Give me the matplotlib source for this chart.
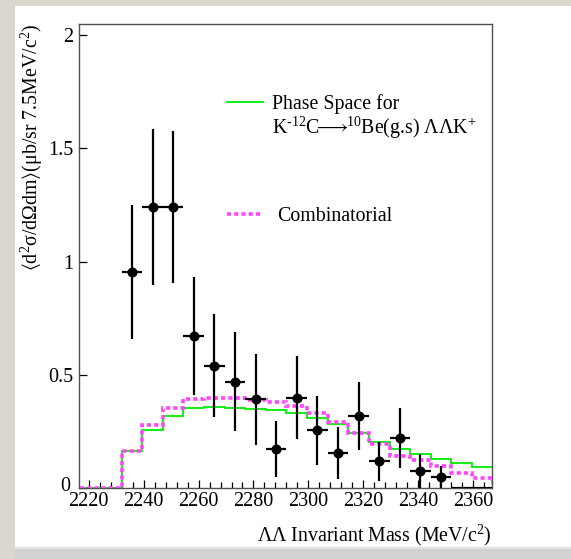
import numpy as np
import matplotlib
matplotlib.use("Agg")
import matplotlib.pyplot as plt
from matplotlib.patches import Rectangle
from matplotlib.lines import Line2D
from matplotlib.ticker import MultipleLocator
import matplotlib.transforms as mtransforms

plt.rcParams['font.family'] = ['Liberation Serif', 'DejaVu Serif', 'DejaVu Sans']
plt.rcParams['mathtext.fontset'] = 'custom'
plt.rcParams['mathtext.rm'] = 'Liberation Serif'
plt.rcParams['mathtext.it'] = 'Liberation Serif:italic'
plt.rcParams['mathtext.fallback'] = 'stix'

# ---- data ----
bin_edges = [2217.0, 2224.5, 2232.0, 2239.5, 2247.0, 2254.5, 2262.0, 2269.5, 2277.0,
             2284.5, 2292.0, 2299.5, 2307.0, 2314.5, 2322.0, 2329.5, 2337.0, 2344.5,
             2352.0, 2359.5, 2367.0]
data_values = [np.nan, np.nan, 0.955, 1.241, 1.241, 0.673, 0.541, 0.470, 0.393, 0.172,
               0.400, 0.257, 0.157, 0.319, 0.120, 0.221, 0.076, 0.049, 0.0, 0.0]
data_errors = [np.nan, np.nan, 0.295, 0.343, 0.336, 0.260, 0.226, 0.218, 0.200, 0.123,
               0.184, 0.152, 0.115, 0.151, 0.086, 0.133, 0.077, 0.049, 0.0, 0.0]
phase_space = [0.0, 0.0, 0.163, 0.257, 0.320, 0.353, 0.357, 0.356, 0.350, 0.345,
               0.334, 0.312, 0.282, 0.245, 0.206, 0.172, 0.150, 0.129, 0.113, 0.093]
combinatorial = [0.0, 0.0, 0.165, 0.279, 0.353, 0.393, 0.400, 0.400, 0.390, 0.382,
                 0.365, 0.334, 0.294, 0.243, 0.194, 0.143, 0.125, 0.098, 0.069, 0.047]
x_ticks = [2220, 2240, 2260, 2280, 2300, 2320, 2340, 2360]
y_ticks = [0, 0.5, 1, 1.5, 2]
y_tick_labels = ['0', '0.5', '1', '1.5', '2']

W, H = 571, 559
fig = plt.figure(figsize=(W / 100, H / 100), dpi=100)
fig.patch.set_facecolor('#dbd6ce')
fig.add_artist(Rectangle((15 / W, 1 - 547 / H), (W - 15) / W, (547 - 6) / H,
                         transform=fig.transFigure, facecolor='white', edgecolor='none', zorder=0))
fig.add_artist(Rectangle((15 / W, 0), (W - 15) / W, (559 - 547) / H,
                         transform=fig.transFigure, facecolor='#d2d2d2', edgecolor='none', zorder=0))
fig.add_artist(Rectangle((15 / W, (559 - 549) / H), (W - 15) / W, 2 / H,
                         transform=fig.transFigure, facecolor='#e2e2e2', edgecolor='none', zorder=0))

ax_l, ax_r, ax_t, ax_b = 79, 492, 24, 488.3
ax = fig.add_axes([ax_l / W, 1 - ax_b / H, (ax_r - ax_l) / W, (ax_b - ax_t) / H])
ax.set_facecolor('white')

edges = np.array(bin_edges)
centers = 0.5 * (edges[:-1] + edges[1:])
halfw = 0.5 * (edges[1:] - edges[:-1])
vals = np.array(data_values)
errs = np.array(data_errors)

dot_style = (0, (1.15, 0.85))
ax.stairs(phase_space, edges, color='#00ee00', lw=1.3, baseline=0, zorder=2)
ax.stairs(combinatorial, edges, color='#ff44ff', lw=2.6, baseline=0, zorder=3,
          linestyle=dot_style)

nz = np.isfinite(vals) & (vals > 0)
z = np.isfinite(vals) & (vals == 0)
ax.errorbar(centers[nz], vals[nz], yerr=errs[nz], xerr=halfw[nz], fmt='o', color='black',
            ms=6.2, elinewidth=1.6, capsize=0, zorder=5)
ax.errorbar(centers[z], vals[z], xerr=halfw[z], fmt='none', ecolor='black',
            elinewidth=1.6, capsize=0, zorder=5)

ax.set_xlim(2216.5, 2366.8)
ax.set_ylim(0, 2.049)
ax.set_xticks(x_ticks)
ax.xaxis.set_minor_locator(MultipleLocator(4))
ax.set_yticks(y_ticks)
ax.set_yticklabels(y_tick_labels)

for s in ax.spines.values():
    s.set_color('#505050')
    s.set_linewidth(1.0)

ax.tick_params(axis='both', which='both', direction='in', top=False, right=False,
               labelsize=14.5, color='black', width=0.9)
ax.tick_params(axis='x', which='major', length=6, pad=3)
ax.tick_params(axis='x', which='minor', length=4)
ax.tick_params(axis='y', which='major', length=6, pad=4)

# nudge the y "0" label up-left like the reference
fig.canvas.draw()
ylabs = ax.get_yticklabels()
ylabs[0].set_transform(ylabs[0].get_transform() +
                       mtransforms.ScaledTranslation(-3 / 100, 4 / 100, fig.dpi_scale_trans))

ax.set_xlabel(r'ΛΛ Invariant Mass (MeV/c$^{2}$)', fontsize=14.3, loc='right')
ax.xaxis.set_label_coords(1.0, -(535 - ax_b) / (ax_b - ax_t))
ax.xaxis.label.set_va('center')
ax.set_ylabel(r'$\langle$d$^{2}$σ/dΩdm$\rangle$(μb/sr 7.5MeV/c$^{2}$)', fontsize=14.3, loc='top')
ax.yaxis.set_label_coords(-(ax_l - 32) / (ax_r - ax_l), 1.0)
ax.yaxis.label.set_va('center')

# legend entries
h1 = Line2D([], [], color='#00ee00', lw=1.3)
h2 = Line2D([], [], color='#ff44ff', lw=2.6, linestyle=dot_style)
fs = 14.3
leg1 = ax.legend([h1], ['Phase Space for'], loc='center left', frameon=False,
                 bbox_to_anchor=((227 - ax_l) / (ax_r - ax_l), (ax_b - 104) / (ax_b - ax_t)),
                 borderpad=0, borderaxespad=0, handlelength=1.8, handletextpad=0.45,
                 fontsize=fs)
ax.add_artist(leg1)
leg2 = ax.legend([h2], ['Combinatorial'], loc='center left', frameon=False,
                 bbox_to_anchor=((227 - ax_l) / (ax_r - ax_l), (ax_b - 216.5) / (ax_b - ax_t)),
                 borderpad=0, borderaxespad=0, handlelength=1.75, handletextpad=0.75,
                 fontsize=fs)
ax.text((271.7 - ax_l) / (ax_r - ax_l), (ax_b - 133.3) / (ax_b - ax_t),
        r'K$^{\text{-}12}$C$\!\!\longrightarrow\!\!{}^{10}$Be(g.s) ΛΛK$^{+}$', transform=ax.transAxes,
        fontsize=fs, va='baseline', ha='left')

fig.savefig('out.png', dpi=100, facecolor=fig.get_facecolor())
